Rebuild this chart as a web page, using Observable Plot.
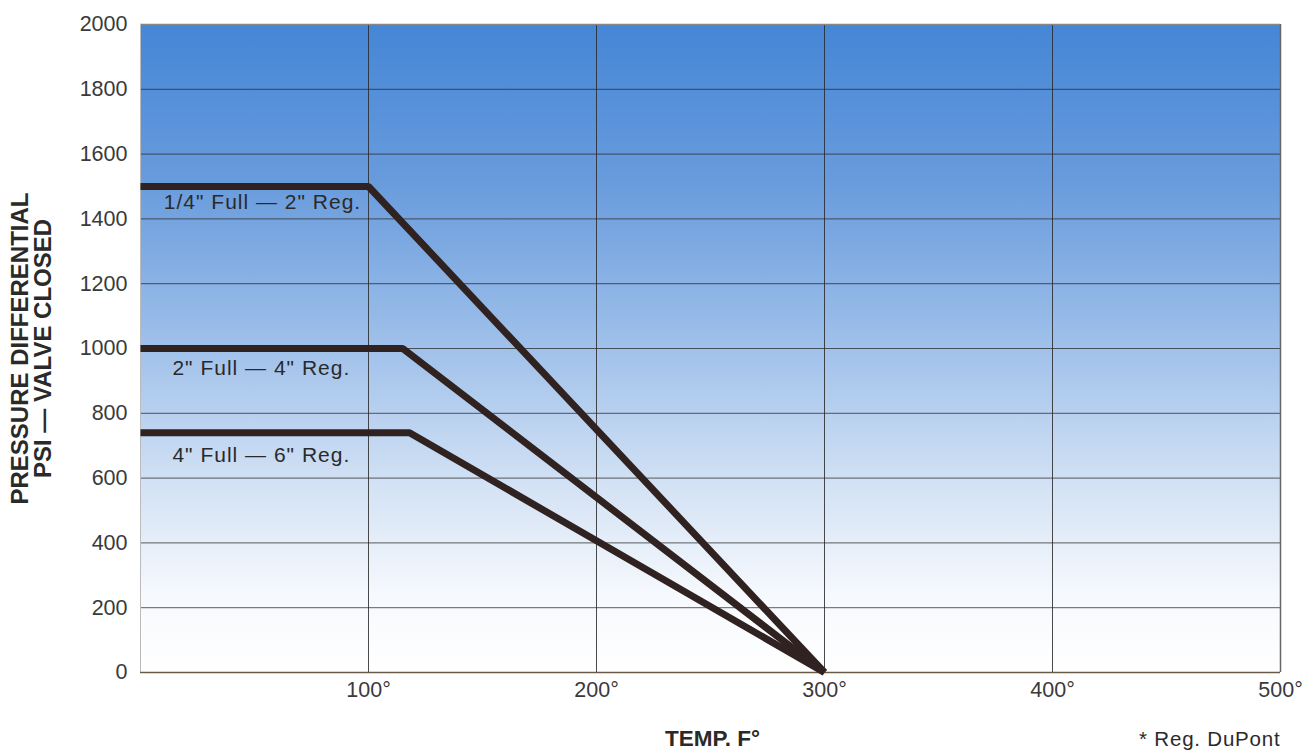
<!DOCTYPE html>
<html>
<head>
<meta charset="utf-8">
<script src="https://cdn.jsdelivr.net/npm/d3@7"></script>
<script src="https://cdn.jsdelivr.net/npm/@observablehq/plot@0.6"></script>
<style>
  html, body { margin: 0; padding: 0; background: #fff; }
  #chart svg { display: block; }
</style>
</head>
<body>
<div id="chart"></div>
<script>
// Series: temperature (°F) and pressure differential (psi) breakpoints
const seriesNames = ['1/4" Full — 2" Reg.', '2" Full — 4" Reg.', '4" Full — 6" Reg.'];
const tempPoints = [
  [0, 100, 300],
  [0, 115, 300],
  [0, 118, 300]
];
const psiPoints = [
  [1500, 1500, 0],
  [1000, 1000, 0],
  [740, 740, 0]
];
// Label anchors (data units)
const labelTemp = [53.5, 53, 53];
const labelPsi = [1450, 938, 670];

const xTicks = [100, 200, 300, 400, 500];
const yTicks = [0, 200, 400, 600, 800, 1000, 1200, 1400, 1600, 1800, 2000];
const gridX = [100, 200, 300, 400];
const gridY = [200, 400, 600, 800, 1000, 1200, 1400, 1600, 1800];

const yTitle = "PRESSURE DIFFERENTIAL\nPSI — VALVE CLOSED";
const xTitle = "TEMP. F°";
const footnote = "* Reg. DuPont";

const lineData = seriesNames.flatMap((name, i) =>
  tempPoints[i].map((t, j) => ({series: name, temp: t, psi: psiPoints[i][j]})));
const labelData = seriesNames.map((name, i) => ({text: name, temp: labelTemp[i], psi: labelPsi[i]}));

const defs = () => {
  const d = d3.create("svg:defs");
  const g = d.append("linearGradient").attr("id", "bgGrad")
    .attr("x1", 0).attr("y1", 0).attr("x2", 0).attr("y2", 1);
  [["0%", "#4586d6"], ["25%", "#6a9cdd"], ["50%", "#a0c1ea"], ["72%", "#d5e3f5"], ["88%", "#f6f9fd"], ["100%", "#ffffff"]]
    .forEach(([o, c]) => g.append("stop").attr("offset", o).attr("stop-color", c));
  return d.node();
};

const chart = Plot.plot({
  width: 1308,
  height: 750,
  marginLeft: 140,
  marginRight: 28,
  marginTop: 24,
  marginBottom: 78,
  style: {fontFamily: "'Liberation Sans', Arial, Helvetica, sans-serif", background: "#fff"},
  x: {domain: [0, 500], label: null},
  y: {domain: [0, 2000], label: null},
  marks: [
    defs,
    Plot.frame({fill: "url(#bgGrad)", stroke: null}),
    Plot.ruleX(gridX, {stroke: "#2a2a2a", strokeWidth: 1, strokeOpacity: 0.85}),
    Plot.ruleY(gridY, {stroke: "#2a2a2a", strokeWidth: 1, strokeOpacity: 0.75}),
    Plot.ruleY([2000], {stroke: "#888", strokeWidth: 1.5}),
    Plot.ruleX([500], {stroke: "#666", strokeWidth: 1.5}),
    Plot.ruleX([0], {stroke: "#bbb", strokeWidth: 1}),
    Plot.ruleY([0], {stroke: "#6a5a48", strokeWidth: 1.5}),
    Plot.axisX({ticks: xTicks, tickFormat: d => d + "°", tickSize: 0, tickPadding: 9, fontSize: 21.5, fill: "#3a3a3a", label: null}),
    Plot.axisY({ticks: yTicks, tickFormat: d => String(d), tickSize: 0, tickPadding: 13, fontSize: 21.5, fill: "#3a3a3a", label: null}),
    Plot.line(lineData, {x: "temp", y: "psi", z: "series", stroke: "#2f2220", strokeWidth: 7, strokeLinejoin: "miter", strokeLinecap: "butt"}),
    Plot.text(labelData, {x: "temp", y: "psi", text: "text", fontSize: 21, fill: "#2a2a2a"}),
    Plot.text([yTitle], {frameAnchor: "left", dx: -108.5, rotate: -90, textAnchor: "middle", fontSize: 24, fontWeight: "bold", fill: "#2a2a2a", lineHeight: 0.97}),
    Plot.text([xTitle], {frameAnchor: "bottom", dx: 2, dy: 73, lineAnchor: "bottom", fontSize: 22.5, fontWeight: "bold", fill: "#2a2a2a"}),
    Plot.text([footnote], {frameAnchor: "bottom-right", dx: 0, dy: 73, lineAnchor: "bottom", fontSize: 20.5, fill: "#2a2a2a", textAnchor: "end"})
  ]
});
// letter spacing for footnote and curve labels
d3.select(chart).selectAll("text")
  .filter(function() { return seriesNames.includes(this.textContent); })
  .style("letter-spacing", "1px");
d3.select(chart).selectAll("text")
  .filter(function() { return this.textContent === footnote; })
  .style("letter-spacing", "0.8px");
document.getElementById("chart").appendChild(chart);
</script>
</body>
</html>
